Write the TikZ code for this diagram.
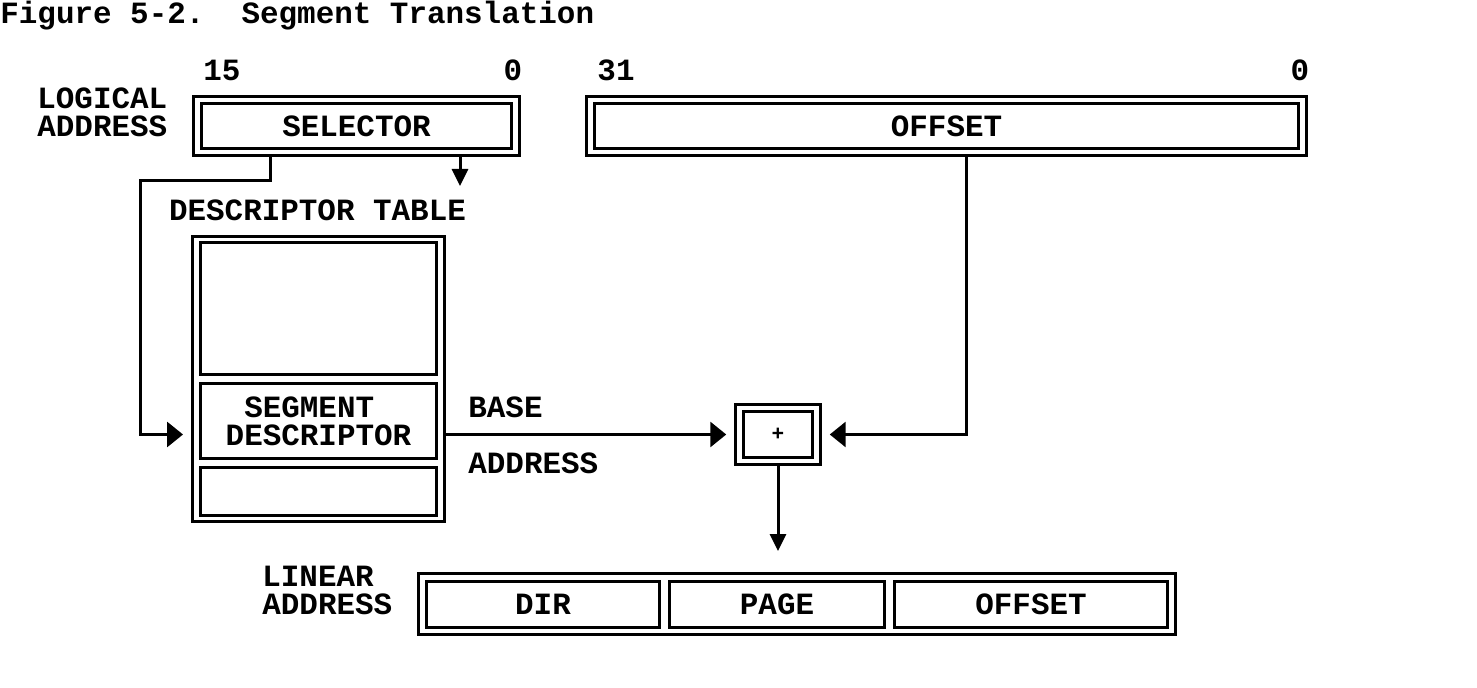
\documentclass[tikz,border=0pt]{standalone}
\usepackage{fontspec}
\setmonofont{Liberation Mono}
\usetikzlibrary{positioning, arrows.meta}

\newcommand{\chartfont}{\fontsize{17.6}{15.9}\selectfont\ttfamily\bfseries}
\frenchspacing

\begin{document}
\begin{tikzpicture}[
    x=0.02cm, y=-0.02cm,
    font=\chartfont,
    field/.style={draw, double, line width=0.06cm, double distance=0.09cm, inner sep=0pt, outer sep=0.105cm, minimum height=1.04cm},
    tablebox/.style={draw, line width=0.06cm, inner sep=0pt, outer sep=0.03cm},
    cell/.style={draw, line width=0.06cm, inner sep=0pt, minimum width=4.72cm},
    lcell/.style={draw, line width=0.06cm, inner sep=0pt, minimum height=0.92cm},
    tag/.style={inner sep=0pt, align=left},
    line/.style={draw, line width=0.06cm, -{Triangle[length=0.32cm, width=0.5cm]}},
    vline/.style={draw, line width=0.06cm, -{Triangle[length=0.34cm, width=0.32cm]}}
]
\useasboundingbox (0,0) rectangle (1477,688);

% Nodes
\node[anchor=base west, inner sep=0pt] (title) at (0,24) {Figure 5-2.\ \ Segment Translation};

\node[field, minimum width=6.36cm] (sel) at (356.5,126) {SELECTOR};
\node[field, minimum width=14.24cm] (ofs) at (946.5,126) {OFFSET};
\node[tag, anchor=west] (logical) at (37,112) {LOGICAL\\ADDRESS};
\node (b15) at (222,70) {15};
\node (b0) at (513,70) {0};
\node (b31) at (616,70) {31};
\node (b0r) at (1300,70) {0};

\node (dtlabel) at (317.5,210) {DESCRIPTOR TABLE};
\node[tablebox, minimum width=5.04cm, minimum height=5.7cm] (tbl) at (318.5,379) {};
\node[cell, minimum height=2.64cm] (top) at (318.5,308.5) {};
\node[cell, minimum height=1.5cm, align=center] (seg) at (318.5,421) {SEGMENT\kern.6em\\DESCRIPTOR};
\node[cell, minimum height=0.96cm] (bot) at (318.5,491.5) {};

\node[tag, anchor=west] (base) at (468,407) {BASE};
\node[tag, anchor=west] (addr) at (468,463) {ADDRESS};

\node[field, minimum width=1.54cm, minimum height=1.06cm, font=\fontsize{12}{12}\selectfont\ttfamily\bfseries] (plus) at (778,434.5) {+};

\node[tag, anchor=west] (linear) at (262,590) {LINEAR\\ADDRESS};
\node[tablebox, minimum width=15.14cm, minimum height=1.22cm] (lin) at (797,604) {};
\node[lcell, minimum width=4.66cm] (dir) at (543,604.5) {DIR};
\node[lcell, minimum width=4.3cm] (page) at (777,604.5) {PAGE};
\node[lcell, minimum width=5.46cm] (lofs) at (1031,604.5) {OFFSET};

\coordinate (seltip) at (460,186);

% Edges
\draw[line, shorten >=0.16cm] (sel.south -| 270,0) |- (140,181) |- (tbl.west |- plus);
\draw[vline] (sel.south -| seltip) -- (seltip);
\draw[line, shorten >=0.16cm] (tbl.east |- plus) -- (plus.west);
\draw[line, shorten >=0.16cm] (ofs.south -| 966,0) |- (plus.east);
\draw[vline, shorten >=0.42cm] (plus.south) -- (plus.south |- lin.north);

\end{tikzpicture}
\end{document}
